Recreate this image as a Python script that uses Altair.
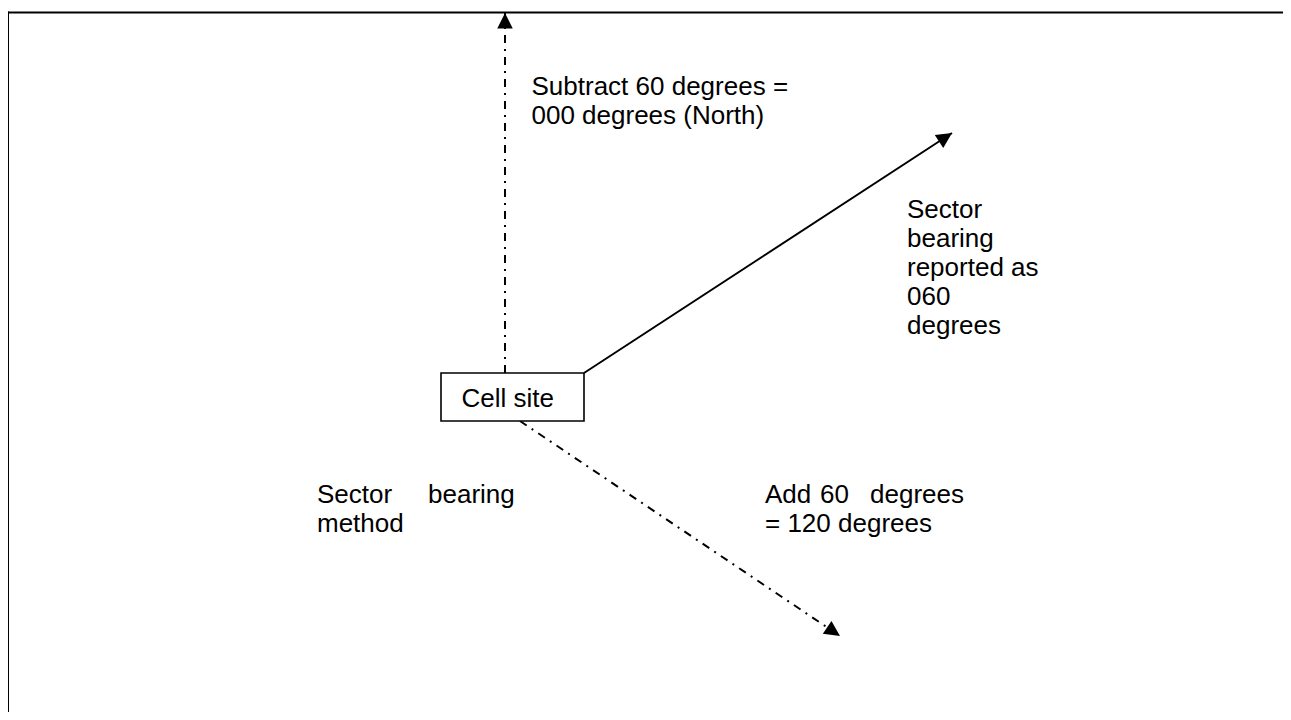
import altair as alt
import pandas as pd
import numpy as np

# ---- diagram data (page-pixel coordinates) ----
# frame (top and left edges; right/bottom lie outside the picture)
frame_x1 = [8, 8]
frame_y1 = [12.5, 12.5]
frame_x2 = [8, 1291]
frame_y2 = [720, 12.5]

# arrows: start -> tip
arrow_names = ["north", "reported", "plus60"]
arrow_x1 = [505, 584, 520]
arrow_y1 = [373, 373, 421]
arrow_x2 = [505, 952, 840]
arrow_y2 = [13, 133, 636]
arrow_style = ["dashdot", "solid", "dashdot"]

# cell-site box
box_x1 = [441]
box_x2 = [584]
box_y1 = [373]
box_y2 = [421]

# text lines
labels = ["Subtract 60 degrees =", "000 degrees (North)",
          "Sector", "bearing", "reported as", "060", "degrees",
          "Cell site",
          "Sector", "bearing", "method",
          "Add", "60", "degrees", "= 120 degrees"]
label_x = [531.5, 531.5, 907, 907, 907, 907, 907, 461.5, 317, 428, 317, 765, 820, 870, 765]
label_y = [95, 124, 218, 247, 276, 305, 334, 407, 503, 503, 532, 503, 503, 503, 532]

# ---- tables ----
frame_df = pd.DataFrame({"x": frame_x1, "y": frame_y1, "x2": frame_x2, "y2": frame_y2})
arrows_df = pd.DataFrame({"name": arrow_names, "x": arrow_x1, "y": arrow_y1,
                          "x2": arrow_x2, "y2": arrow_y2, "style": arrow_style})
arrows_df["angle"] = np.degrees(np.arctan2(arrows_df["x2"] - arrows_df["x"],
                                           -(arrows_df["y2"] - arrows_df["y"])))
box_df = pd.DataFrame({"x": box_x1, "x2": box_x2, "y": box_y1, "y2": box_y2})
text_df = pd.DataFrame({"label": labels, "x": label_x, "y": label_y})

XS = alt.Scale(domain=[12, 1283], nice=False, zero=False)
YS = alt.Scale(domain=[12, 712], nice=False, zero=False, reverse=True)

def X(f="x"):
    return alt.X(f"{f}:Q", scale=XS, axis=None)

def Y(f="y"):
    return alt.Y(f"{f}:Q", scale=YS, axis=None)

frame = alt.Chart(frame_df).mark_rule(color="black", strokeWidth=2, strokeCap="square").encode(
    x=X(), y=Y(), x2="x2:Q", y2="y2:Q")

solid = alt.Chart(arrows_df).transform_filter(alt.datum.style == "solid").mark_rule(
    color="black", strokeWidth=2).encode(x=X(), y=Y(), x2="x2:Q", y2="y2:Q")

dashed = alt.Chart(arrows_df).transform_filter(alt.datum.style == "dashdot").mark_rule(
    color="black", strokeWidth=2, strokeDash=[8, 6, 2, 6]).encode(
    x=X(), y=Y(), x2="x2:Q", y2="y2:Q")

heads = alt.Chart(arrows_df).mark_point(
    shape="M0,0L-1,2L1,2Z", filled=True, fill="black", opacity=1, strokeWidth=0, size=240).encode(
    x=X("x2"), y=Y("y2"), angle=alt.Angle("angle:Q", scale=None))

box = alt.Chart(box_df).mark_rect(fill="white", stroke="black", strokeWidth=1.6).encode(
    x=X(), x2="x2:Q", y=Y(), y2="y2:Q")

text = alt.Chart(text_df).mark_text(
    align="left", baseline="alphabetic", font="Liberation Sans", fontSize=26, color="black").encode(
    x=X(), y=Y(), text="label:N")

chart = alt.layer(frame, dashed, solid, heads, box, text).properties(
    width=1271, height=700,
    padding={"left": 4, "top": 4, "right": 0, "bottom": 0},
    autosize="none",
    background="white",
).configure_view(strokeWidth=0)

chart.save("out.html", embed_options={"renderer": "svg", "actions": False})
